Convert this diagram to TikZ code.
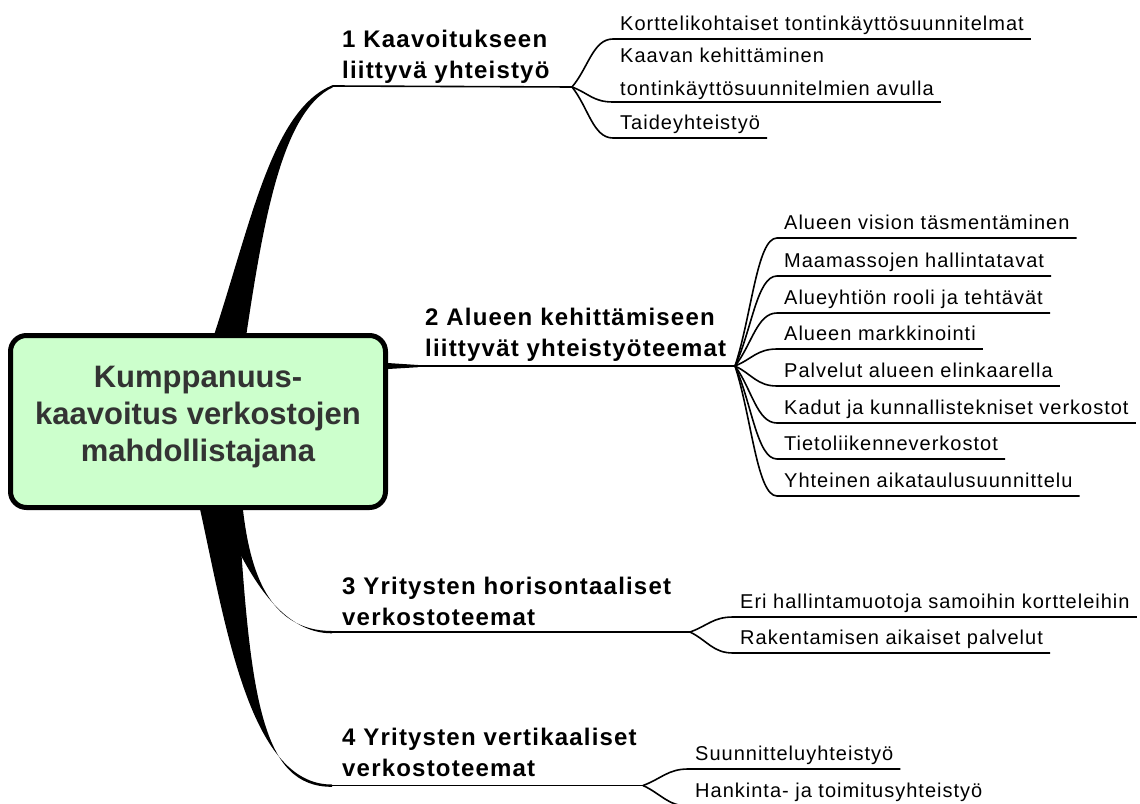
\documentclass[tikz,border=0pt]{standalone}
\usepackage{fontspec}
\setmainfont{Liberation Sans}
\newfontfamily\leaffont[LetterSpace=5]{Liberation Sans}
\newfontfamily\labfont[LetterSpace=5]{Liberation Sans}
\usetikzlibrary{calc}
\definecolor{boxgreen}{HTML}{CCFFCC}
\definecolor{boxtext}{HTML}{333333}
\newcommand\leafline[2]{\draw[conn] (#1) .. controls ($(#1)!0.4!(#2.south west)$) and ($(#2.south west)+(-20,0)$) .. (#2.south west) -- (#2.south east);}
\begin{document}
\begin{tikzpicture}[x=1pt,y=-1pt,
  leaf/.style={anchor=south west, inner xsep=7pt, inner ysep=8pt, text depth=0pt, align=left,
    font=\leaffont\fontsize{20}{33}\selectfont},
  lab/.style={anchor=south west, inner sep=0pt, text depth=0pt, align=left,
    font=\labfont\bfseries\fontsize{24}{31}\selectfont},
  conn/.style={line width=1.6pt, line join=round},
  trunk/.style={fill=black},
  centerbox/.style={draw, line width=5pt, fill=boxgreen, rounded corners=16pt,
    minimum width=375pt, minimum height=172pt, inner sep=0pt},
  centertext/.style={font=\bfseries\fontsize{31}{37}\selectfont, text=boxtext, align=center, inner sep=0pt}]
\useasboundingbox (0,0) rectangle (1140,803);
\clip (0,0) rectangle (1140,803);

% branch end / fan points
\coordinate (b1s) at (333,86);
\coordinate (F1) at (572,87);
\coordinate (b2s) at (386,366);
\coordinate (F2) at (735,366);
\coordinate (b3s) at (332,632);
\coordinate (F3) at (690,632);
\coordinate (b4s) at (332,785.5);
\coordinate (F4) at (643,785.5);

% thick tapered trunks
\fill[trunk] (209,350) .. controls (250,230) and (270,110) .. (333,85) -- (333,87.2)
  .. controls (280,112) and (262,230) .. (244,350) -- cycle;
\fill[trunk] (244,500) -- (243,510) .. controls (250,570) and (268,631) .. (332,631)
  -- (332,633.3) .. controls (285,633.3) and (256,584) .. (238,550) -- (230,500) -- cycle;
\fill[trunk] (198,500) .. controls (225,620) and (248,785) .. (332,784.5)
  -- (332,786.8) .. controls (262,787) and (250,700) .. (238,500) -- cycle;
\fill[trunk] (380,362.5) -- (418,365) -- (418,367.2) -- (380,369.5) -- cycle;

% branch lines
\draw[conn] (b1s) -- (F1);
\draw[conn] (b2s) -- (F2);
\draw[conn] (b3s) -- (F3);
\draw[conn] (b4s) -- (F4);

% center
\node[centerbox] (c) at (198,421.5) {};
\node[centertext] (ct) at (198,417) {Kumppanuus-\\kaavoitus verkostojen\\mahdollistajana};

% branch labels
\node[lab] (t1) at (342,79) {1 Kaavoitukseen\\liittyvä yhteistyö};
\node[lab] (t2) at (425,357) {2 Alueen kehittämiseen\\liittyvät yhteistyöteemat};
\node[lab] (t3) at (342,625.5) {3 Yritysten horisontaaliset\\verkostoteemat};
\node[lab] (t4) at (342,777) {4 Yritysten vertikaaliset\\verkostoteemat};

% leaves of branch 1
\node[leaf] (a1) at (613,39) {Korttelikohtaiset tontinkäyttösuunnitelmat};
\node[leaf, inner ysep=6pt] (a2) at (613,102) {Kaavan kehittäminen\\tontinkäyttösuunnitelmien avulla};
\node[leaf] (a3) at (613,138) {Taideyhteistyö};
\leafline{F1}{a1}
\leafline{F1}{a2}
\leafline{F1}{a3}

% leaves of branch 2
\node[leaf] (b1) at (777,238) {Alueen vision täsmentäminen};
\node[leaf] (b2) at (777,276) {Maamassojen hallintatavat};
\node[leaf] (b3) at (777,313) {Alueyhtiön rooli ja tehtävät};
\node[leaf] (b4) at (777,349) {Alueen markkinointi};
\node[leaf] (b5) at (777,386) {Palvelut alueen elinkaarella};
\node[leaf] (b6) at (777,423) {Kadut ja kunnallistekniset verkostot};
\node[leaf] (b7) at (777,459) {Tietoliikenneverkostot};
\node[leaf] (b8) at (777,496) {Yhteinen aikataulusuunnittelu};
\foreach \n in {b1,b2,b3,b4,b5,b6,b7,b8} {\leafline{F2}{\n}}

% leaves of branch 3
\node[leaf] (c1) at (733,617) {Eri hallintamuotoja samoihin kortteleihin};
\node[leaf] (c2) at (733,653) {Rakentamisen aikaiset palvelut};
\leafline{F3}{c1}
\leafline{F3}{c2}

% leaves of branch 4
\node[leaf] (d1) at (688,769) {Suunnitteluyhteistyö};
\node[leaf] (d2) at (688,806) {Hankinta- ja toimitusyhteistyö};
\leafline{F4}{d1}
\leafline{F4}{d2}
\end{tikzpicture}
\end{document}
